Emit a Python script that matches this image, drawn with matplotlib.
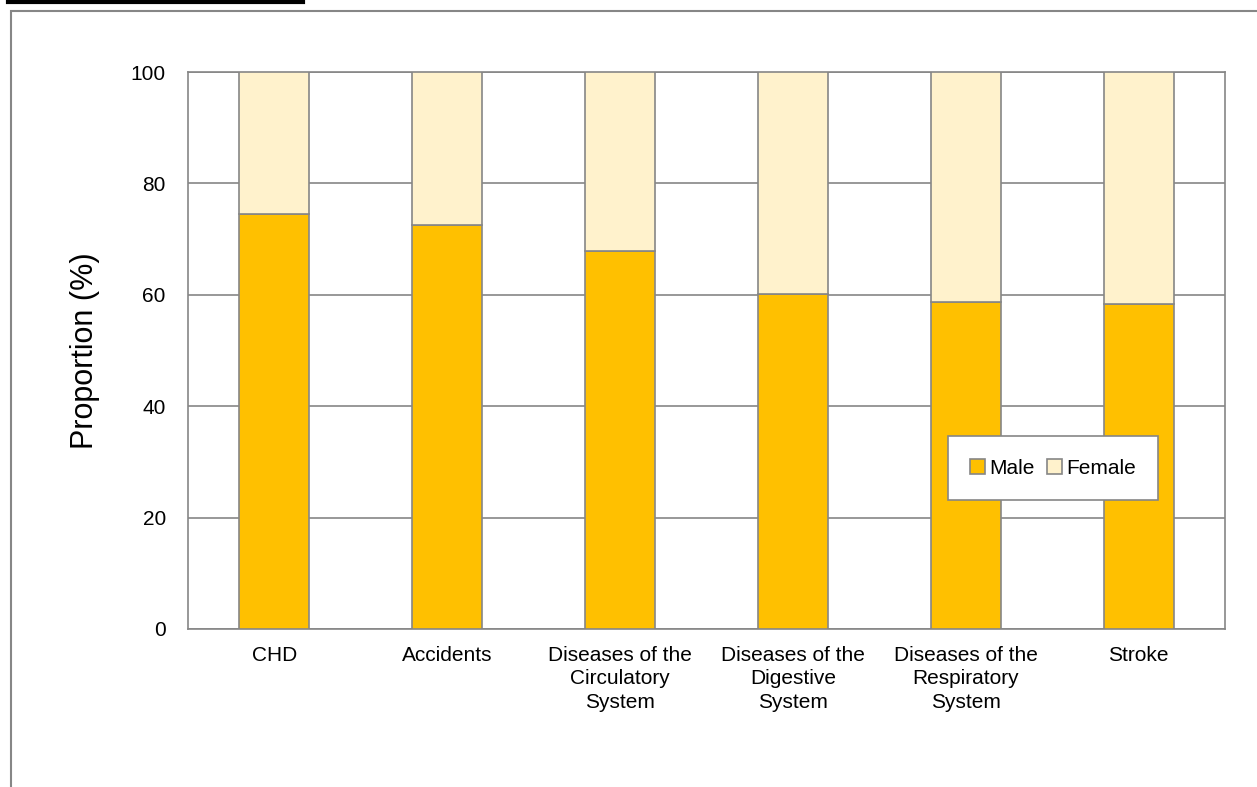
import numpy as np
import matplotlib.pyplot as plt
from matplotlib.patches import Rectangle
from matplotlib.lines import Line2D

categories = ["CHD", "Accidents", "Diseases of the\nCirculatory\nSystem",
              "Diseases of the\nDigestive\nSystem", "Diseases of the\nRespiratory\nSystem", "Stroke"]
male = [74.5, 72.5, 67.9, 60.1, 58.7, 58.3]
female = [100 - m for m in male]

fig = plt.figure(figsize=(12.57, 7.87), dpi=100)
plt.rcParams['font.family'] = ['Liberation Sans', 'DejaVu Sans']

# outer frame and the cut-off underline at the top
fig.add_artist(Rectangle((11 / 1257, -0.1), 1.2, 1 - 11 / 787 + 0.1, transform=fig.transFigure,
                         fill=False, edgecolor="#868686", linewidth=1.5))
fig.add_artist(Line2D([8 / 1257, 303 / 1257], [1 - 2 / 787, 1 - 2 / 787], transform=fig.transFigure,
                      color="black", linewidth=3))

ax = fig.add_axes([188 / 1257, 1 - 629 / 787, (1225 - 188) / 1257, (629 - 72) / 787])
x = np.arange(len(categories))
ax.bar(x, male, width=0.405, color="#FFC000", edgecolor="#868686", linewidth=1.2, label="Male", zorder=3)
ax.bar(x, female, bottom=male, width=0.405, color="#FFF2CC", edgecolor="#868686", linewidth=1.2,
       label="Female", zorder=3)

ax.set_xlim(-0.5, len(categories) - 0.5)
ax.set_ylim(0, 100)
ax.set_yticks(range(0, 101, 20))
ax.set_xticks(x)
ax.set_xticklabels(categories, fontsize=15, linespacing=1.3)
ax.tick_params(axis="y", labelsize=15, length=0, pad=16)
ax.tick_params(axis="x", length=0, pad=12)
ax.yaxis.grid(True, color="#868686", linewidth=1.2, zorder=0)
for s in ax.spines.values():
    s.set_color("#868686")
    s.set_linewidth(1.2)
ax.set_ylabel("Proportion (%)", fontsize=22, labelpad=22)

leg = ax.legend(loc="center", bbox_to_anchor=((1053 - 188) / 1037, (629 - 468) / 557), ncol=2,
                fontsize=15, frameon=True, fancybox=False, framealpha=1, handlelength=0.7,
                handleheight=0.7, handletextpad=0.2, columnspacing=0.6, borderpad=1.1, borderaxespad=0)
leg.get_frame().set_edgecolor("#868686")
leg.get_frame().set_linewidth(1.2)

plt.savefig("out.png", dpi=100)
